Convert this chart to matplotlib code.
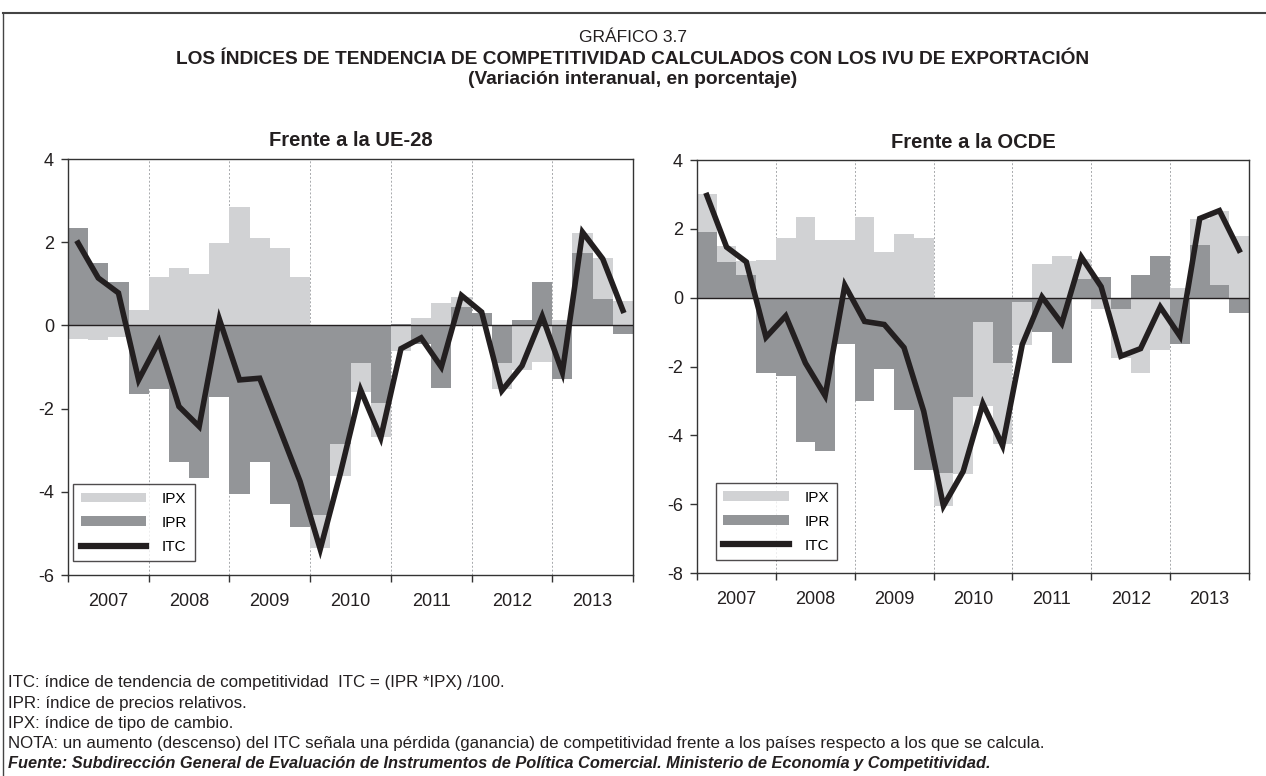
import numpy as np
import matplotlib
matplotlib.use('Agg')
import matplotlib.pyplot as plt
from matplotlib.patches import Patch
from matplotlib.lines import Line2D

plt.rcParams['font.family'] = ['Liberation Sans', 'DejaVu Sans']
plt.rcParams['axes.unicode_minus'] = False

years = ['2007', '2008', '2009', '2010', '2011', '2012', '2013']

# Frente a la UE-28 (trimestral, 2007T1-2013T4)
ue_ipr = [2.33, 1.51, 1.05, -1.64, -1.53, -3.28, -3.66, -1.73,
          -4.06, -3.28, -4.29, -4.84, -4.56, -2.84, -0.91, -1.87,
          0.04, -0.45, -1.51, 0.45, 0.31, -0.90, 0.13, 1.05,
          -1.28, 1.73, 0.64, -0.21]
ue_ipx = [-0.32, -0.36, -0.27, 0.38, 1.16, 1.37, 1.24, 1.97,
          2.84, 2.11, 1.87, 1.16, -0.78, -0.78, -0.68, -0.82,
          -0.62, 0.18, 0.53, 0.23, 0.0, -0.64, -1.08, -0.87,
          0.13, 0.49, 0.97, 0.59]
ue_itc = [1.98, 1.14, 0.78, -1.31, -0.39, -1.95, -2.43, 0.15,
          -1.31, -1.27, -2.50, -3.75, -5.38, -3.55, -1.55, -2.70,
          -0.56, -0.30, -1.00, 0.72, 0.32, -1.57, -0.97, 0.22,
          -1.13, 2.24, 1.60, 0.36]

# Frente a la OCDE
oc_ipr = [1.91, 1.03, 0.65, -2.19, -2.29, -4.20, -4.46, -1.34,
          -3.00, -2.08, -3.26, -5.00, -5.08, -2.89, -0.72, -1.90,
          -0.12, -1.00, -1.90, 0.53, 0.59, -0.32, 0.65, 1.20,
          -1.34, 1.52, 0.36, -0.45]
oc_ipx = [1.09, 0.46, 0.41, 1.09, 1.74, 2.33, 1.69, 1.69,
          2.33, 1.32, 1.84, 1.74, -0.97, -2.23, -2.43, -2.36,
          -1.25, 0.97, 1.20, 0.60, -0.32, -1.42, -2.19, -1.51,
          0.27, 0.78, 2.15, 1.78]
oc_itc = [2.97, 1.47, 1.04, -1.15, -0.53, -1.90, -2.85, 0.36,
          -0.69, -0.78, -1.45, -3.30, -6.05, -5.05, -3.08, -4.30,
          -1.36, 0.02, -0.75, 1.18, 0.32, -1.70, -1.48, -0.27,
          -1.12, 2.30, 2.53, 1.38]

c_ipx = '#d1d2d4'
c_ipr = '#939598'
c_itc = '#231f20'

W, H = 1266, 776
fig = plt.figure(figsize=(W / 100, H / 100), dpi=100)


def px_axes(x0, y0, x1, y1):
    return fig.add_axes([x0 / W, 1 - y1 / H, (x1 - x0) / W, (y1 - y0) / H])


def panel(ax, ipr, ipx, itc, ylim, title, leg_box):
    ipr = np.array(ipr)
    ipx = np.array(ipx)
    n = len(ipr)
    x = np.arange(n) + 0.5
    # barras apiladas: positivos sobre positivos, negativos sobre negativos
    base = np.where(np.sign(ipx) == np.sign(ipr), ipr, 0)
    for k in range(1, 7):
        ax.axvline(4 * k, color='#a7a9ac', lw=0.7, ls=(0, (2, 2)), zorder=1)
    ax.bar(x, ipx, width=1.0, bottom=base, color=c_ipx, zorder=2)
    ax.bar(x, ipr, width=1.0, color=c_ipr, zorder=2)
    ax.axhline(0, color=c_itc, lw=1.0, zorder=3)
    ax.plot(x, itc, color=c_itc, lw=4.0, solid_joinstyle='miter', zorder=4)
    ax.set_xlim(0, n)
    ax.set_ylim(*ylim)
    ax.set_yticks(np.arange(ylim[0], ylim[1] + 1, 2))
    ax.set_xticks(np.arange(0, n + 1, 4))
    ax.set_xticklabels([])
    ax.set_xticks(np.arange(2, n, 4), minor=True)
    ax.set_xticklabels(years, minor=True)
    ax.tick_params(axis='x', which='major', direction='out', length=5, width=1, color='#333333')
    ax.tick_params(axis='x', which='minor', length=0, pad=13, labelsize=13, labelcolor=c_itc)
    ax.tick_params(axis='y', direction='out', length=5, width=1, color='#333333',
                   pad=5, labelsize=13, labelcolor=c_itc)
    for s in ax.spines.values():
        s.set_color('#333333')
        s.set_linewidth(1.0)
    ax.set_title(title, fontsize=14.5, fontweight='bold', color=c_itc, pad=9)
    handles = [Patch(facecolor=c_ipx, edgecolor='none'),
               Patch(facecolor=c_ipr, edgecolor='none'),
               Line2D([0], [0], color=c_itc, lw=4.5)]
    leg = ax.legend(handles, ['IPX', 'IPR', 'ITC'], loc='lower left',
                    bbox_to_anchor=leg_box, fontsize=11, frameon=True,
                    fancybox=False, edgecolor=c_itc, handlelength=4.3,
                    handleheight=0.6, handletextpad=1.0, labelspacing=0.65,
                    borderpad=0.5, borderaxespad=0)
    leg.get_frame().set_linewidth(1.0)
    leg.set_zorder(6)


ax1 = px_axes(68, 159, 633, 575)
panel(ax1, ue_ipr, ue_ipx, ue_itc, (-6, 4), 'Frente a la UE-28', (0.009, 0.033))

ax2 = px_axes(697, 160, 1249, 573)
panel(ax2, oc_ipr, oc_ipx, oc_itc, (-8, 4), 'Frente a la OCDE', (0.034, 0.031))

# marco superior e izquierdo
fig.add_artist(Line2D([3 / W, 1265 / W], [1 - 13 / H, 1 - 13 / H], color='#444444', lw=1.5))
fig.add_artist(Line2D([3 / W, 3 / W], [1 - 13 / H, 0], color='#444444', lw=1.0))

fig.text(633 / W, 1 - 38 / H, 'GRÁFICO 3.7', ha='center', va='center', fontsize=12.5, color=c_itc)
fig.text(633 / W, 1 - 59 / H,
         'LOS ÍNDICES DE TENDENCIA DE COMPETITIVIDAD CALCULADOS CON LOS IVU DE EXPORTACIÓN',
         ha='center', va='center', fontsize=13.8, fontweight='bold', color=c_itc)
fig.text(633 / W, 1 - 80 / H, '(Variación interanual, en porcentaje)',
         ha='center', va='center', fontsize=13.8, fontweight='bold', color=c_itc)

notes = ['ITC: índice de tendencia de competitividad  ITC = (IPR *IPX) /100.',
         'IPR: índice de precios relativos.',
         'IPX: índice de tipo de cambio.',
         'NOTA: un aumento (descenso) del ITC señala una pérdida (ganancia) de competitividad '
         'frente a los países respecto a los que se calcula.']
for k, t in enumerate(notes):
    fig.text(8 / W, 1 - (683 + 20.2 * k) / H, t, ha='left', va='center',
             fontsize=12.2, color=c_itc)
fig.text(8 / W, 1 - 763.5 / H,
         'Fuente: Subdirección General de Evaluación de Instrumentos de Política Comercial. '
         'Ministerio de Economía y Competitividad.',
         ha='left', va='center', fontsize=11.8, fontweight='bold', style='italic', color=c_itc)

fig.savefig('out.png', dpi=100)
